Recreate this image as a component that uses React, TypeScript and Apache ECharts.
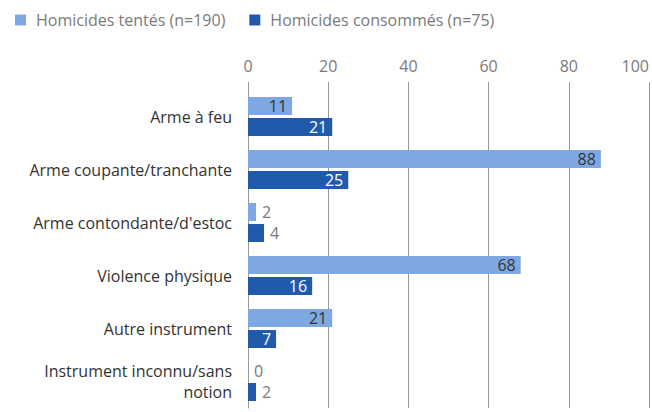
import React, { useEffect, useRef } from "react";
import * as echarts from "echarts";

const categories = [
  "Arme à feu",
  "Arme coupante/tranchante",
  "Arme contondante/d'estoc",
  "Violence physique",
  "Autre instrument",
  "Instrument inconnu/sans\nnotion",
];
const seriesNames = ["Homicides tentés (n=190)", "Homicides consommés (n=75)"];
const tentes = [11, 88, 2, 68, 21, 0];
const consommes = [21, 25, 4, 16, 7, 2];
const xTicks = { min: 0, max: 100, interval: 20 };

const FONT = "'Open Sans', 'Noto Sans', sans-serif";
const LIGHT = "#7EA8E3";
const DARK = "#1F5BAA";

function makeData(values: number[], insideColor: string) {
  return values.map((v) => {
    const small = v <= 4;
    return {
      value: v,
      label: small
        ? { position: "right", color: "#7a7a7a", distance: 6 }
        : { position: "insideRight", color: insideColor, distance: 5 },
    };
  });
}

export default function App() {
  const ref = useRef<HTMLDivElement>(null);
  useEffect(() => {
    if (!ref.current) return;
    const chart = echarts.init(ref.current, null, { renderer: "svg" });
    chart.setOption({
      animation: false,
      textStyle: { fontFamily: FONT },
      legend: {
        left: 10,
        top: 7,
        itemWidth: 11,
        itemHeight: 11,
        itemGap: 24,
        icon: "rect",
        textStyle: { fontFamily: FONT, fontSize: 16, color: "#7a7a7a", padding: [0, 0, 0, 5] },
        data: seriesNames,
      },
      grid: { left: 248, right: 2, top: 90, height: 318, containLabel: false },
      xAxis: {
        type: "value",
        position: "top",
        min: xTicks.min,
        max: xTicks.max,
        interval: xTicks.interval,
        axisLine: { show: false },
        axisTick: { show: true, length: 8, lineStyle: { color: "#999" } },
        axisLabel: {
          fontFamily: FONT,
          fontSize: 16,
          color: "#7a7a7a",
          margin: 16,
          alignMaxLabel: "right",
        },
        splitLine: { show: true, lineStyle: { color: "#999", width: 1 } },
      },
      yAxis: {
        type: "category",
        inverse: true,
        data: categories,
        axisTick: { show: false },
        axisLine: { show: true, lineStyle: { color: "#999" } },
        axisLabel: {
          fontFamily: FONT,
          fontSize: 16,
          color: "#333",
          margin: 16,
          lineHeight: 21,
          align: "right",
        },
      },
      series: [
        {
          name: seriesNames[0],
          type: "bar",
          barWidth: 18,
          barGap: "17%",
          itemStyle: { color: LIGHT },
          label: { show: true, fontFamily: FONT, fontSize: 16 },
          data: makeData(tentes, "#333"),
        },
        {
          name: seriesNames[1],
          type: "bar",
          barWidth: 18,
          itemStyle: { color: DARK },
          label: { show: true, fontFamily: FONT, fontSize: 16 },
          data: makeData(consommes, "#fff"),
        },
      ],
    });
    return () => chart.dispose();
  }, []);
  return (
    <div
      ref={ref}
      style={{ position: "absolute", left: 0, top: 0, width: 652, height: 412 }}
    />
  );
}
